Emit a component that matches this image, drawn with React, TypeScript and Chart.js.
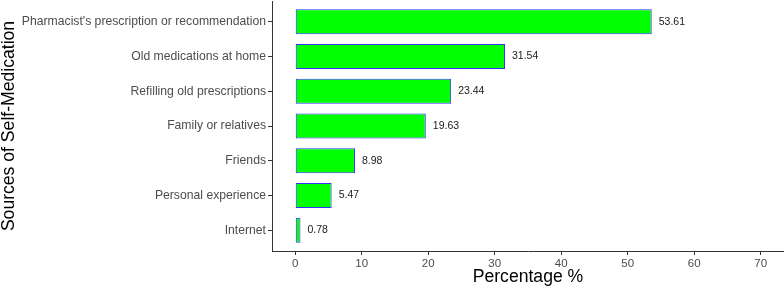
import React, { useEffect, useRef } from "react";
import { Chart, registerables } from "chart.js";

Chart.register(...registerables);

const categories = [
  "Pharmacist's prescription or recommendation",
  "Old medications at home",
  "Refilling old prescriptions",
  "Family or relatives",
  "Friends",
  "Personal experience",
  "Internet",
];
const percentages = [53.61, 31.54, 23.44, 19.63, 8.98, 5.47, 0.78];
const xTickValues = [0, 10, 20, 30, 40, 50, 60, 70];

const FONT = "'Liberation Sans', Arial, sans-serif";

const valueLabels = {
  id: "valueLabels",
  afterDatasetsDraw(chart: any) {
    const ctx = chart.ctx;
    const meta = chart.getDatasetMeta(0);
    ctx.save();
    ctx.font = `10.5px ${FONT}`;
    ctx.fillStyle = "#1a1a1a";
    ctx.textAlign = "left";
    ctx.textBaseline = "middle";
    meta.data.forEach((bar: any, i: number) => {
      ctx.fillText(percentages[i].toFixed(2), bar.x + 7, bar.y);
    });
    ctx.restore();
  },
};

export default function App() {
  const ref = useRef<HTMLCanvasElement | null>(null);
  useEffect(() => {
    document.body.style.margin = "0";
    if (!ref.current) return;
    const chart = new Chart(ref.current, {
      type: "bar",
      data: {
        datasets: [
          {
            data: percentages.map((v, i) => ({ x: v, y: i })) as any,
            backgroundColor: "#00ff00",
            borderColor: "#3333ff",
            borderWidth: 1,
            borderSkipped: false,
            barPercentage: 0.72,
            categoryPercentage: 1,
          },
        ],
      },
      options: {
        indexAxis: "y",
        animation: false,
        responsive: false,
        maintainAspectRatio: false,
        layout: { padding: { top: 1, left: 0, right: 0, bottom: 0 } },
        plugins: { legend: { display: false }, tooltip: { enabled: false } },
        scales: {
          x: {
            type: "linear",
            min: -3.5,
            max: 73.5,
            offset: false,
            afterBuildTicks: (scale: any) => {
              scale.ticks = xTickValues.map((v) => ({ value: v }));
            },
            afterFit: (scale: any) => {
              scale.height = 38;
              scale.paddingLeft = 0;
              scale.paddingRight = 0;
            },
            grid: {
              display: true,
              offset: false,
              drawOnChartArea: false,
              drawTicks: true,
              tickLength: 4,
              color: "#333333",
            },
            border: { display: true, color: "#333333", width: 1 },
            ticks: {
              padding: 2,
              color: "#4d4d4d",
              font: { family: FONT, size: 11.5 },
              maxRotation: 0,
            },
            title: {
              display: true,
              text: "Percentage %",
              color: "#000000",
              font: { family: FONT, size: 17.6, lineHeight: 1 },
              padding: { top: 0, bottom: 3 },
            },
          },
          y: {
            type: "linear",
            min: -0.6,
            max: 6.6,
            reverse: true,
            offset: false,
            afterBuildTicks: (scale: any) => {
              scale.ticks = categories.map((_, i) => ({ value: i }));
            },
            afterFit: (scale: any) => {
              scale.width = 272;
              scale.paddingTop = 0;
              scale.paddingBottom = 0;
            },
            grid: {
              display: true,
              offset: false,
              drawOnChartArea: false,
              drawTicks: true,
              tickLength: 4,
              color: "#333333",
            },
            border: { display: true, color: "#333333", width: 1 },
            ticks: {
              padding: 2,
              color: "#4d4d4d",
              font: { family: FONT, size: 12.2 },
              callback: (v: any) => categories[v as number] ?? "",
            },
            title: {
              display: true,
              text: "Sources of Self-Medication",
              color: "#000000",
              font: { family: FONT, size: 17.6, lineHeight: 1 },
              padding: { top: 0, bottom: 0 },
            },
          },
        },
      },
      plugins: [valueLabels],
    } as any);
    return () => chart.destroy();
  }, []);
  return (
    <div style={{ width: 784, height: 289 }}>
      <canvas ref={ref} width={784} height={289} style={{ display: "block" }} />
    </div>
  );
}
